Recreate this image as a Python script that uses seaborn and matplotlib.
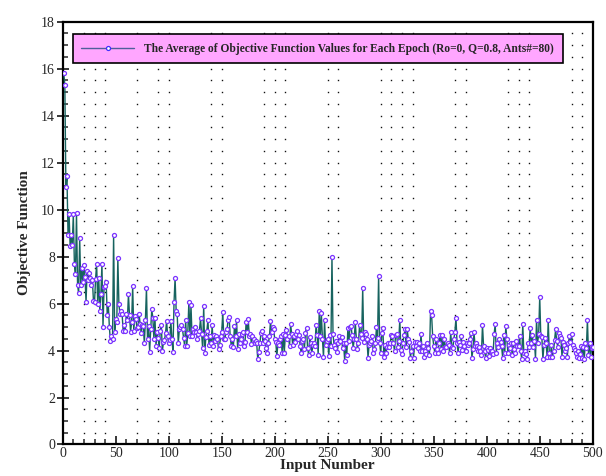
import numpy as np
import pandas as pd
import matplotlib
matplotlib.use("Agg")
import matplotlib.pyplot as plt
from matplotlib.ticker import MultipleLocator
import seaborn as sns

# Average objective function value per epoch (epochs 1-500)
obj_001_100 = [
    15.8, 15.3, 10.95, 11.45, 8.9, 9.8, 8.45, 8.9, 8.5, 9.8,
    7.7, 7.25, 9.87, 6.8, 6.45, 8.8, 6.8, 7.5, 6.9, 7.65,
    7.15, 6.05, 7.4, 7.0, 7.3, 7.1, 6.8, 7.0, 6.1, 6.05,
    7.05, 7.7, 6.0, 7.1, 5.7, 6.4, 7.7, 5.0, 6.7, 6.75,
    6.9, 5.5, 5.97, 5.0, 4.4, 4.6, 4.5, 8.94, 4.8, 5.35,
    5.2, 7.95, 5.97, 5.55, 5.7, 5.57, 4.85, 5.1, 4.85, 5.57,
    5.3, 6.39, 5.5, 4.8, 5.2, 6.76, 4.85, 5.45, 5.35, 4.98,
    5.0, 5.57, 5.15, 4.75, 5.1, 5.05, 4.3, 5.3, 6.65, 4.47,
    5.05, 3.95, 4.9, 5.75, 5.4, 4.5, 5.4, 4.2, 4.8, 4.55,
    4.1, 4.85, 5.1, 3.98, 4.35, 4.45, 4.73, 5.27, 4.6, 4.3,
]
obj_101_200 = [
    4.45, 5.27, 4.5, 3.95, 6.05, 7.1, 5.7, 5.55, 4.3, 4.9,
    5.0, 5.1, 4.9, 4.55, 4.2, 5.3, 4.2, 4.75, 6.08, 4.6,
    5.93, 4.6, 4.9, 4.8, 5.0, 4.8, 4.5, 4.7, 4.85, 5.37,
    4.7, 4.1, 5.9, 3.88, 4.57, 4.85, 5.3, 4.22, 4.6, 4.3,
    5.07, 4.2, 4.65, 4.4, 4.6, 4.5, 4.05, 4.25, 4.6, 4.8,
    5.62, 4.5, 4.5, 4.78, 4.9, 5.3, 5.43, 4.6, 4.2, 4.5,
    4.15, 5.05, 4.6, 5.3, 4.05, 4.7, 4.3, 4.5, 4.7, 4.78,
    4.2, 4.35, 5.2, 4.8, 5.34, 4.6, 4.7, 4.28, 4.6, 4.5,
    4.3, 4.4, 4.3, 3.62, 3.95, 4.3, 4.75, 4.85, 4.3, 4.6,
    4.4, 4.1, 3.9, 4.3, 4.6, 5.25, 4.8, 5.0, 4.9, 4.5,
]
obj_201_300 = [
    4.35, 3.75, 4.3, 4.25, 4.5, 4.6, 3.88, 4.7, 3.9, 4.65,
    4.88, 4.5, 4.6, 4.2, 5.12, 4.7, 4.22, 4.6, 4.35, 4.7,
    4.85, 4.5, 4.66, 4.2, 3.88, 4.4, 4.5, 4.08, 4.75, 4.98,
    4.1, 3.82, 4.57, 4.3, 3.9, 4.22, 4.3, 4.2, 5.1, 4.65,
    3.82, 5.68, 4.6, 5.58, 4.5, 3.72, 5.3, 4.22, 4.4, 4.5,
    3.75, 4.65, 4.2, 7.99, 4.7, 4.22, 4.1, 4.4, 3.95, 4.3,
    4.6, 4.4, 4.57, 4.1, 4.3, 3.55, 4.3, 3.8, 4.95, 4.4,
    5.0, 5.05, 4.65, 4.1, 4.5, 5.2, 4.5, 4.08, 4.3, 5.07,
    4.7, 4.55, 6.65, 4.35, 4.8, 4.7, 4.5, 3.7, 4.22, 4.3,
    4.4, 4.6, 3.88, 4.05, 4.3, 5.0, 4.55, 7.18, 4.3, 3.88,
]
obj_301_400 = [
    4.73, 4.94, 3.74, 4.24, 3.91, 4.17, 4.3, 4.17, 4.34, 4.66,
    4.6, 4.3, 4.0, 4.66, 4.7, 4.17, 4.4, 5.32, 4.03, 3.86,
    4.34, 4.66, 4.9, 4.17, 4.9, 4.5, 4.38, 3.7, 4.0, 4.2,
    3.7, 4.38, 4.2, 4.38, 4.1, 4.3, 3.97, 4.7, 3.97, 4.2,
    3.74, 3.97, 3.86, 4.34, 4.1, 3.83, 5.68, 5.51, 4.6, 4.2,
    3.91, 4.48, 4.05, 3.91, 4.3, 4.68, 4.05, 4.66, 4.0, 4.48,
    4.17, 4.17, 4.3, 4.24, 3.89, 4.77, 4.17, 4.1, 4.5, 4.8,
    5.4, 4.3, 3.91, 4.38, 4.24, 4.6, 4.03, 4.38, 4.2, 3.97,
    4.34, 4.24, 4.34, 4.5, 4.73, 3.7, 4.05, 4.77, 4.2, 4.34,
    4.2, 4.0, 4.17, 4.0, 3.83, 5.1, 4.2, 3.97, 3.68, 4.1,
]
obj_401_500 = [
    4.03, 3.77, 4.1, 3.97, 3.97, 3.86, 4.7, 5.13, 3.89, 4.3,
    4.17, 4.48, 4.38, 4.2, 3.7, 4.66, 3.89, 5.05, 4.48, 3.89,
    4.24, 4.1, 4.3, 3.83, 4.3, 4.05, 3.91, 4.42, 4.2, 4.2,
    4.6, 3.97, 3.65, 5.13, 3.89, 3.97, 3.86, 3.65, 4.3, 4.17,
    4.98, 4.32, 4.66, 4.17, 4.4, 3.65, 5.32, 4.34, 4.7, 6.29,
    4.62, 4.57, 3.63, 4.24, 4.52, 4.3, 3.74, 5.3, 3.91, 3.74,
    4.24, 3.74, 3.97, 4.45, 4.9, 4.4, 4.17, 4.73, 4.62, 4.52,
    3.74, 4.38, 4.24, 3.97, 4.1, 3.74, 4.3, 4.6, 4.38, 4.7,
    4.24, 4.1, 4.03, 3.91, 3.74, 3.97, 3.7, 3.85, 4.2, 3.7,
    4.17, 3.65, 4.3, 4.1, 5.32, 3.83, 4.34, 3.74, 4.1, 4.17,
]

series_label = "The Average of Objective Function Values for Each Epoch (Ro=0, Q=0.8, Ants#=80)"
x_ticks = [0, 50, 100, 150, 200, 250, 300, 350, 400, 450, 500]
y_ticks = [0, 2, 4, 6, 8, 10, 12, 14, 16, 18]
# columns of the dotted background grid
grid_cols = [20, 30, 40, 70, 90, 100, 140, 150, 190, 200, 210, 250, 260,
             300, 310, 320, 330, 370, 380, 420, 430, 440, 480, 490]

values = obj_001_100 + obj_101_200 + obj_201_300 + obj_301_400 + obj_401_500
df = pd.DataFrame({"Input Number": np.arange(1, len(values) + 1),
                   "Objective Function": values})

sns.set_style("ticks")
plt.rcParams["font.family"] = ["Liberation Serif", "DejaVu Serif"]

fig = plt.figure(figsize=(6.06, 4.76), dpi=100)
ax = fig.add_axes([0.1035, 0.0662, 0.8746, 0.8882])

# dotted grid: one pixel per intersection
gx, gy = np.meshgrid(grid_cols, np.arange(0.5, 18, 0.5))
ax.plot(gx.ravel(), gy.ravel(), linestyle="none", marker="s", markersize=1.0,
        markeredgewidth=0, color="#111111", zorder=1)

sns.lineplot(data=df, x="Input Number", y="Objective Function", ax=ax,
             color="#17635f", linewidth=1.0, marker="o", markersize=2.9,
             markerfacecolor="white", markeredgecolor="#7b33ff",
             markeredgewidth=0.9, label=series_label, zorder=3)

ax.set_xlim(0, 500)
ax.set_ylim(0, 18)
ax.set_xticks(x_ticks)
ax.set_yticks(y_ticks)
ax.xaxis.set_minor_locator(MultipleLocator(10))
ax.yaxis.set_minor_locator(MultipleLocator(0.5))
ax.tick_params(axis="x", which="major", direction="in", length=6, width=1.3,
               labelsize=10, pad=2)
ax.tick_params(axis="y", which="major", direction="inout", length=9, width=1.3,
               labelsize=10, pad=1)
ax.tick_params(which="minor", direction="in", length=3.5, width=1.1)
for side in ["left", "bottom", "top", "right"]:
    ax.spines[side].set_linewidth(1.6)
    ax.spines[side].set_color("black")

ax.set_xlabel("Input Number", fontsize=11, fontweight="bold", labelpad=-1)
ax.set_ylabel("Objective Function", fontsize=11, fontweight="bold", labelpad=7)

leg = ax.legend(loc="upper left", bbox_to_anchor=(0.019, 0.971),
                borderaxespad=0, frameon=True, fancybox=False,
                edgecolor="black", facecolor="#ffa6ff", framealpha=1,
                handlelength=4.6, handletextpad=0.85, borderpad=0.75,
                prop={"family": "Liberation Serif", "weight": "bold",
                      "size": 8.3})
leg.get_frame().set_linewidth(1.2)
for h in leg.get_lines():
    h.set_color("#4f5f9a")
    h.set_linewidth(1.0)
    h.set_markeredgecolor("#3f2fff")

fig.savefig("out.png", dpi=100)
